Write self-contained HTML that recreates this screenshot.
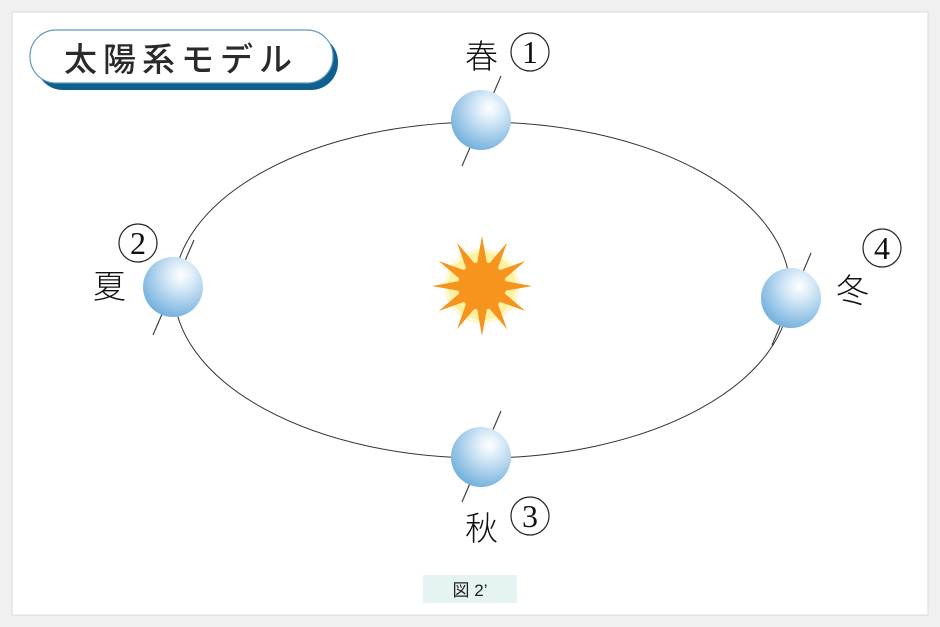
<!DOCTYPE html>
<html><head><meta charset="utf-8"><style>
body{margin:0;background:#fff;}
</style></head><body>
<svg width="940" height="627" xmlns="http://www.w3.org/2000/svg" style="display:block">
<defs>
<radialGradient id="p" cx="0.64" cy="0.3" r="0.78">
<stop offset="0" stop-color="#ffffff"/><stop offset="0.3" stop-color="#d6e9f7"/><stop offset="1" stop-color="#6aabdb"/>
</radialGradient>
</defs>
<rect x="0" y="0" width="940" height="627" fill="#f0f0f0"/>
<rect x="12" y="12" width="916" height="603" fill="#fff" stroke="#d8d8d8"/>
<rect x="36" y="35" width="302" height="55" rx="27" fill="#0f5f8f"/>
<rect x="30" y="30" width="303" height="53" rx="26" fill="#fff" stroke="#5a9ac0" stroke-width="1.2"/>
<text x="181" y="71" text-anchor="middle" font-family="Noto Sans CJK JP, sans-serif" font-weight="500" font-size="33" letter-spacing="6" fill="#2a2a2a">太陽系モデル</text>
<ellipse cx="482" cy="290" rx="308" ry="168" fill="none" stroke="#333" stroke-width="1"/>
<circle cx="482" cy="286" r="34" fill="#fff1a0"/>
<circle cx="482" cy="286" r="36" fill="none" stroke="#fff8d0" stroke-width="3"/>
<polygon fill="#f7941d" points="482,236 487.4,265.7 507,242.7 496.8,271.2 525.3,261 502.3,280.6 532,286 502.3,291.4 525.3,311 496.8,300.8 507,329.3 487.4,306.3 482,336 476.6,306.3 457,329.3 467.2,300.8 438.7,311 461.7,291.4 432,286 461.7,280.6 438.7,261 467.2,271.2 457,242.7 476.6,265.7"/>
<circle cx="482" cy="286" r="24" fill="#f7941d"/>
<g stroke="#444" stroke-width="1.2">
<line x1="462" y1="166" x2="501" y2="76"/>
<line x1="153" y1="335" x2="194" y2="240"/>
<line x1="772" y1="345" x2="811" y2="253"/>
<line x1="462" y1="502" x2="501" y2="411"/>
</g>
<g fill="url(#p)">
<circle cx="481" cy="120" r="30"/>
<circle cx="173" cy="287" r="30"/>
<circle cx="791" cy="298" r="30"/>
<circle cx="481" cy="457" r="30"/>
</g>
<g font-family="Noto Sans CJK JP, sans-serif" font-weight="300" font-size="33" fill="#111">
<text x="465" y="68">春</text>
<text x="93" y="298">夏</text>
<text x="836" y="302">冬</text>
<text x="465" y="540">秋</text>
</g>
<g fill="none" stroke="#222" stroke-width="1.2">
<circle cx="530" cy="52" r="19"/>
<circle cx="138" cy="243" r="19"/>
<circle cx="882" cy="248" r="19"/>
<circle cx="530" cy="516" r="19"/>
</g>
<g font-family="Liberation Serif, serif" font-size="32" fill="#111" text-anchor="middle">
<text x="530" y="63">1</text>
<text x="138" y="254">2</text>
<text x="882" y="259">4</text>
<text x="530" y="527">3</text>
</g>
<rect x="423" y="575" width="94" height="28" fill="#e6f3f3"/>
<text x="470" y="596" text-anchor="middle" font-family="Liberation Sans, Noto Sans CJK JP, sans-serif" font-size="17" fill="#222">図 2’</text>
</svg>
</body></html>
